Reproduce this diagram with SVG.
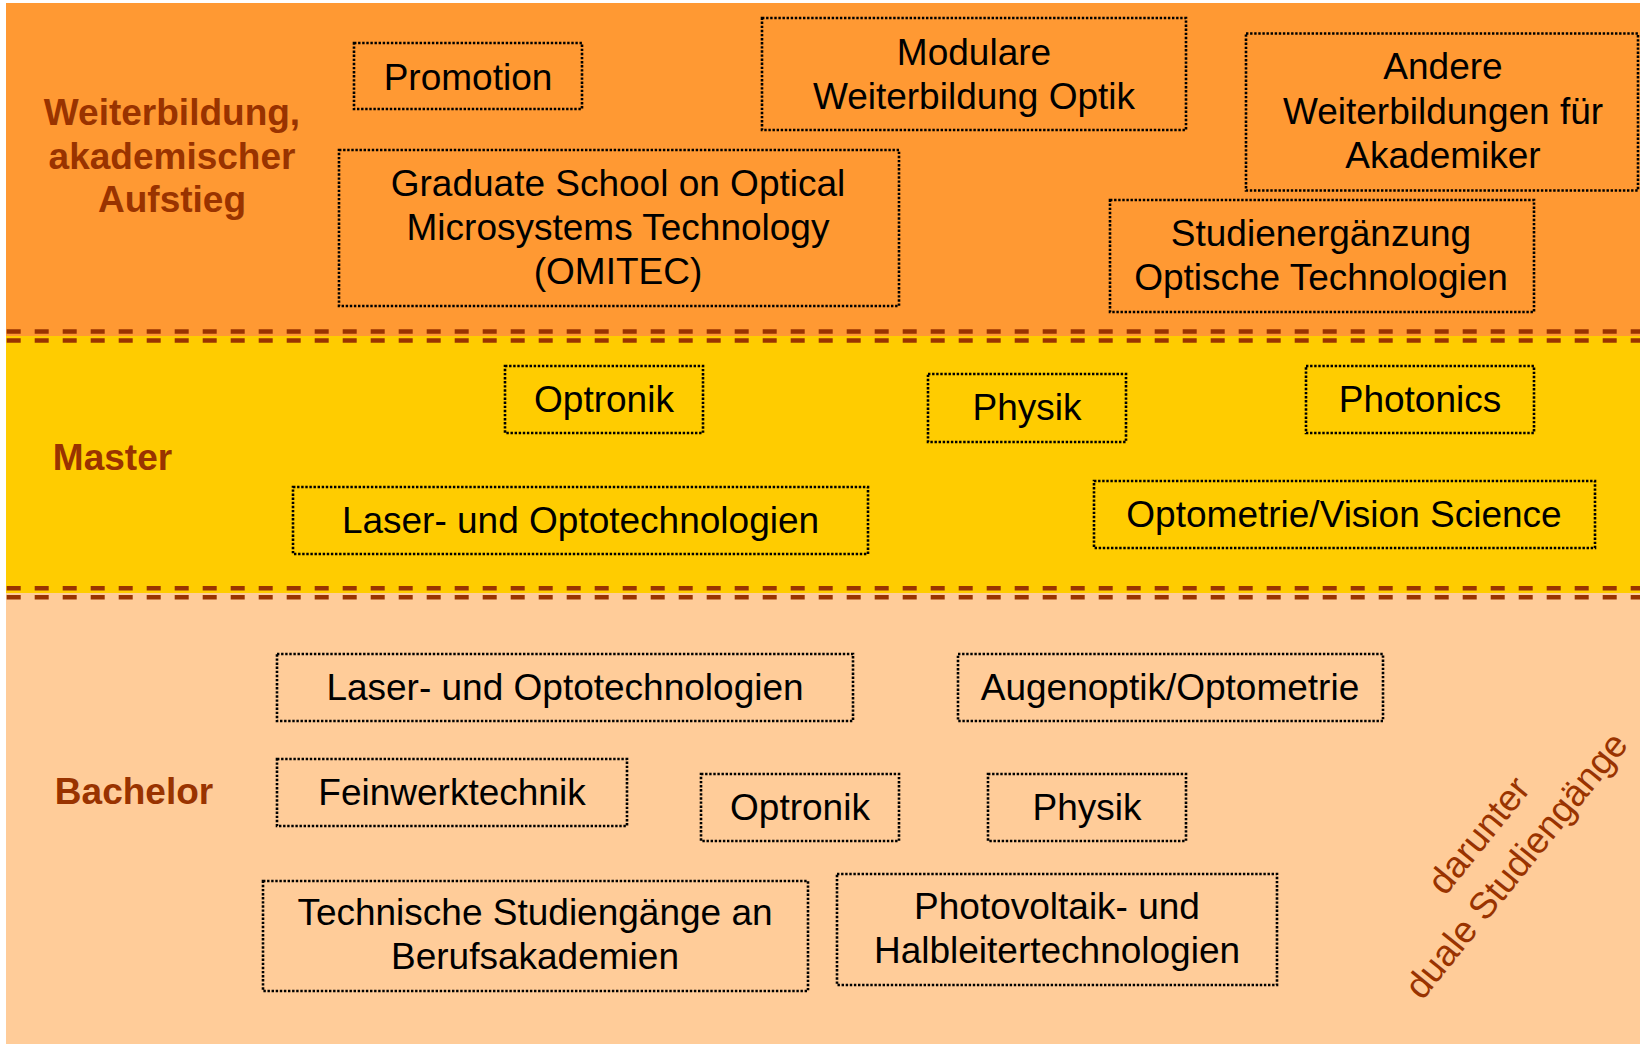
<svg xmlns="http://www.w3.org/2000/svg" width="1640" height="1044" viewBox="0 0 1640 1044">
<style>
.box{fill:none;stroke:#000;stroke-width:2.6;stroke-dasharray:2.4 1.7}
.t{font-family:"Liberation Sans",Arial,Helvetica,sans-serif;font-size:37px;fill:#000;text-anchor:middle}
.lab{font-family:"Liberation Sans",Arial,Helvetica,sans-serif;font-size:37px;font-weight:bold;fill:#993300;text-anchor:middle}
.diag{font-family:"Liberation Sans",Arial,Helvetica,sans-serif;font-size:37px;fill:#993300;text-anchor:middle}
.sep{stroke:#993300;stroke-width:4.5;stroke-dasharray:14 14;fill:none}
</style>
<rect width="1640" height="1044" fill="#fff"/>
<g id="bands">
<rect x="6" y="3" width="1634" height="333" fill="#FF9933"/>
<rect x="6" y="336" width="1634" height="257" fill="#FFCC00"/>
<rect x="6" y="593" width="1634" height="451" fill="#FFCC99"/>
<path class="sep" d="M6.7 331.5H1640M6.7 340.5H1640M6.7 588.3H1640M6.7 597.3H1640"/>
</g>
<g id="labels">
<text class="lab" x="172" y="125">Weiterbildung,<tspan x="172" y="168.5">akademischer</tspan><tspan x="172" y="212">Aufstieg</tspan></text>
<text class="lab" x="112.5" y="470">Master</text>
<text class="lab" x="134" y="804">Bachelor</text>
<text class="diag" transform="translate(1497 850) rotate(-51)"><tspan x="0" y="-11">darunter</tspan><tspan x="0" y="37">duale Studiengänge</tspan></text>
</g>
<g id="connectors"/>
<g id="promotion"><rect class="box" x="354" y="43" width="228" height="66"/><text class="t" x="468" y="90">Promotion</text></g>
<g id="modulare"><rect class="box" x="762" y="18" width="424" height="112"/><text class="t" x="974" y="65">Modulare<tspan x="974" y="109">Weiterbildung Optik</tspan></text></g>
<g id="andere"><rect class="box" x="1246" y="33.5" width="392" height="157"/><text class="t" x="1443" y="79">Andere<tspan x="1443" y="124">Weiterbildungen für</tspan><tspan x="1443" y="168">Akademiker</tspan></text></g>
<g id="omitec"><rect class="box" x="339" y="150" width="560" height="156"/><text class="t" x="618" y="196">Graduate School on Optical<tspan x="618" y="240">Microsystems Technology</tspan><tspan x="618" y="284">(OMITEC)</tspan></text></g>
<g id="studienergaenzung"><rect class="box" x="1110" y="200" width="424" height="112"/><text class="t" x="1321" y="246">Studienergänzung<tspan x="1321" y="290">Optische Technologien</tspan></text></g>
<g id="m-optronik"><rect class="box" x="505" y="366" width="198" height="67"/><text class="t" x="604" y="412">Optronik</text></g>
<g id="m-physik"><rect class="box" x="928" y="374" width="198" height="68"/><text class="t" x="1027" y="420">Physik</text></g>
<g id="m-photonics"><rect class="box" x="1306" y="366" width="228" height="67"/><text class="t" x="1420" y="412">Photonics</text></g>
<g id="m-laser"><rect class="box" x="293" y="487" width="575" height="67"/><text class="t" x="580.5" y="533">Laser- und Optotechnologien</text></g>
<g id="m-optometrie"><rect class="box" x="1094" y="481" width="501" height="67"/><text class="t" x="1344" y="527">Optometrie/Vision Science</text></g>
<g id="b-laser"><rect class="box" x="277" y="654" width="576" height="67"/><text class="t" x="565" y="700">Laser- und Optotechnologien</text></g>
<g id="b-augenoptik"><rect class="box" x="958" y="654" width="425" height="67"/><text class="t" x="1170" y="700">Augenoptik/Optometrie</text></g>
<g id="b-feinwerk"><rect class="box" x="277" y="759" width="350" height="67"/><text class="t" x="452" y="805">Feinwerktechnik</text></g>
<g id="b-optronik"><rect class="box" x="701" y="774" width="198" height="67"/><text class="t" x="800" y="820">Optronik</text></g>
<g id="b-physik"><rect class="box" x="988" y="774" width="198" height="67"/><text class="t" x="1087" y="820">Physik</text></g>
<g id="b-technische"><rect class="box" x="263" y="881" width="545" height="110"/><text class="t" x="535" y="925">Technische Studiengänge an<tspan x="535" y="969">Berufsakademien</tspan></text></g>
<g id="b-photovoltaik"><rect class="box" x="837" y="874" width="440" height="111"/><text class="t" x="1057" y="919">Photovoltaik- und<tspan x="1057" y="963">Halbleitertechnologien</tspan></text></g>
</svg>
